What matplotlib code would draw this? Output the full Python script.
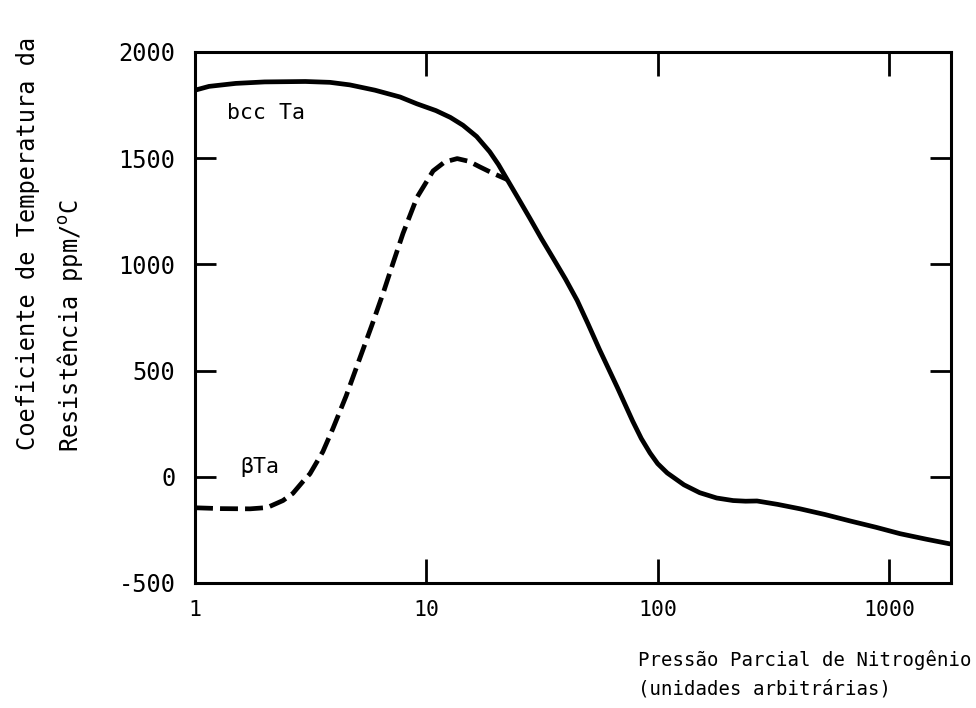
import matplotlib
matplotlib.use("Agg")
import matplotlib.pyplot as plt

# --- data ---
bcc_x = [1.0, 1.15, 1.5, 2.0, 3.0, 3.83, 4.67, 6.0, 7.7, 9.1, 11.0, 12.7, 14.4, 16.5, 18.8,
         20.5, 22.3, 25.0, 28.1, 31.5, 35.3, 40.0, 44.9, 50.0, 56.0, 67.0, 78.0, 85.0, 92.7,
         100.0, 110.0, 130.0, 152.0, 180.0, 212.0, 240.0, 269.0, 330.0, 413.0, 530.0, 679.0,
         880.0, 1117.0, 1450.0, 1836.0]
bcc_y = [1820, 1838, 1852, 1859, 1861, 1857, 1845, 1820, 1788, 1756, 1724, 1692, 1655, 1602, 1530,
         1470, 1402, 1310, 1215, 1120, 1030, 930, 830, 720, 600, 420, 262, 180, 112,
         62, 18, -38, -75, -100, -112, -115, -114, -130, -151, -178, -208,
         -238, -268, -294, -316]

beta_x = [1.0, 1.3, 1.73, 2.05, 2.4, 2.65, 2.93, 3.14, 3.57, 3.95, 4.5, 5.17, 5.8, 6.5,
          7.2, 7.93, 9.12, 10.7, 12.0, 13.6, 15.3, 17.1, 19.3, 22.3]
beta_y = [-146, -150, -151, -145, -112, -78, -22, 14, 118, 228, 380, 561, 710, 863,
          1010, 1146, 1316, 1440, 1482, 1498, 1485, 1458, 1430, 1400]

xticks = [1, 10, 100, 1000]
xticklabels = ["1", "10", "100", "1000"]
yticks = [-500, 0, 500, 1000, 1500, 2000]
yticklabels = ["-500", "0", "500", "1000", "1500", "2000"]

mono = "DejaVu Sans Mono"

fig = plt.figure(figsize=(9.76, 7.08), dpi=100)
ax = fig.add_axes([0.1998, 0.1766, 0.9744 - 0.1998, 0.9266 - 0.1766])

ax.plot(bcc_x, bcc_y, color="black", lw=3.4, solid_capstyle="round", solid_joinstyle="round")
ax.plot(beta_x, beta_y, color="black", lw=3.4, dashes=(3.8, 1.5), dash_joinstyle="round")

ax.set_xscale("log")
ax.set_xlim(1, 1855)
ax.set_ylim(-500, 2000)

ax.set_xticks(xticks)
ax.set_xticklabels(xticklabels, fontfamily=mono, fontsize=15.5)
ax.minorticks_off()
ax.set_yticks(yticks)
ax.set_yticklabels(yticklabels, fontfamily=mono, fontsize=17)

ax.tick_params(axis="both", which="major", direction="in", length=15, width=2,
               top=True, right=True, color="black")
ax.tick_params(axis="x", pad=12)
ax.tick_params(axis="x", which="major", top=True, length=17)
ax.tick_params(axis="y", pad=14)

for s in ax.spines.values():
    s.set_linewidth(2.2)
    s.set_color("black")

ax.text(1.38, 1715, "bcc Ta", fontfamily=mono, fontsize=15.5, ha="left", va="center")
ax.text(1.57, 45, "βTa", fontfamily=mono, fontsize=15.5, ha="left", va="center")

fig.text(0.0287, 0.364, "Coeficiente de Temperatura da", rotation=90,
         fontfamily=mono, fontsize=17, ha="center", va="bottom")
fig.text(0.0717, 0.362, "Resistência ppm/$^{\\mathrm{o}}$C", rotation=90,
         fontfamily=mono, fontsize=17, ha="center", va="bottom")

fig.text(0.6537, 0.0678, "Pressão Parcial de Nitrogênio", fontfamily=mono,
         fontsize=13.7, ha="left", va="center")
fig.text(0.6537, 0.0268, "(unidades arbitrárias)", fontfamily=mono,
         fontsize=13.7, ha="left", va="center")

fig.savefig("out.png", dpi=100, facecolor="white")
